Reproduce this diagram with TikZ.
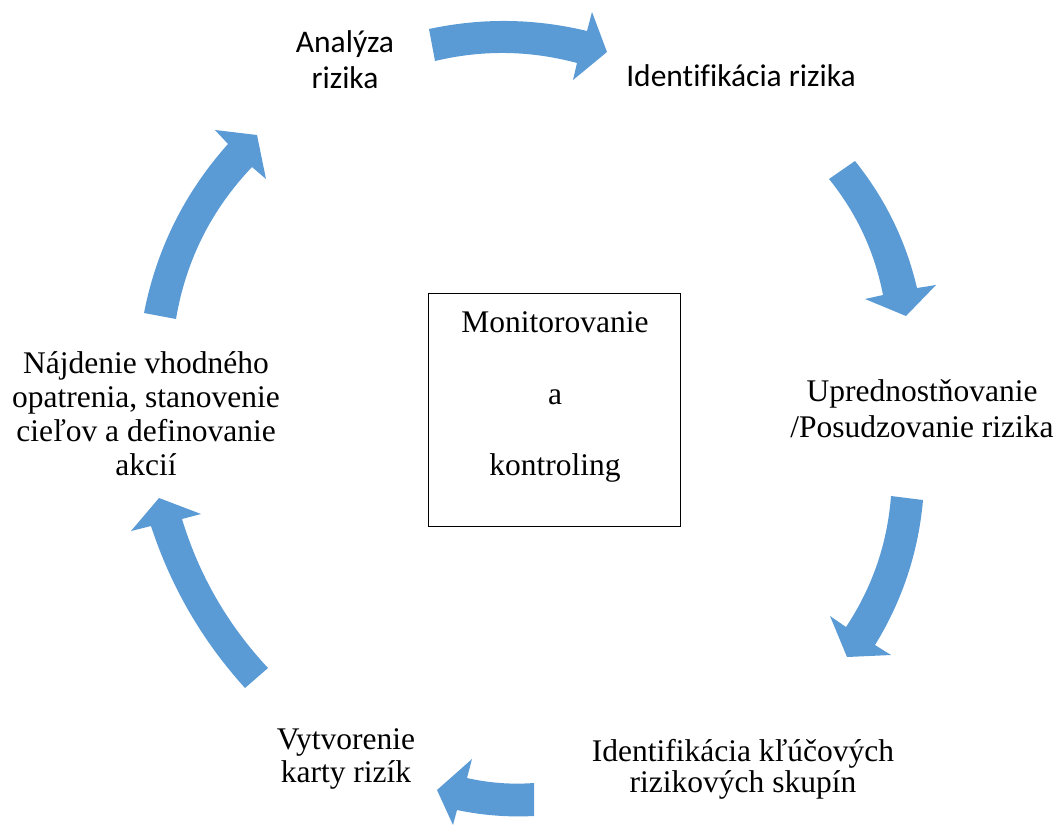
\documentclass[tikz,border=0pt]{standalone}
\usepackage{fontspec}
\usetikzlibrary{calc}
\setmainfont[Ligatures=NoCommon]{Liberation Serif}
\newfontfamily\carl[Ligatures=NoCommon]{Carlito}
\definecolor{arrowblue}{RGB}{91,155,213}
\begin{document}
\begin{tikzpicture}[x=1pt,y=-1pt,
  serif/.style={inner sep=0pt,anchor=base,font=\fontsize{31.5}{35}\selectfont},
  sans/.style={inner sep=0pt,anchor=base,font=\carl\fontsize{31.5}{37}\selectfont},
  blockarrow/.style={fill=arrowblue,draw=none}]
\useasboundingbox (0,0) rectangle (1057,825);

% centre box
\node[draw,line width=1.5pt,minimum width=252pt,minimum height=233pt,inner sep=0pt] (box) at (554.5,410) {};
\node[serif] (m1) at (555,332) {Monitorovanie};
\node[serif] (m2) at (555,404) {a};
\node[serif] (m3) at (555,475) {kontroling};

% labels
\node[sans] (a1) at (345,52) {Analýza};
\node[sans] (a2) at (345,88) {rizika};
\node[sans] (b1) at (741,86) {Identifikácia rizika};
\node[serif] (c1) at (922,401) {Uprednostňovanie};
\node[serif] (c2) at (922,437) {/Posudzovanie rizika};
\node[serif] (d1) at (743,761) {Identifikácia kľúčových};
\node[serif] (d2) at (743,792) {rizikových skupín};
\node[serif] (e1) at (346,749) {Vytvorenie};
\node[serif] (e2) at (346,782) {karty rizík};
\node[serif] (f1) at (146,373) {Nájdenie vhodného};
\node[serif] (f2) at (146,407) {opatrenia, stanovenie};
\node[serif] (f3) at (146,441) {cieľov a definovanie};
\node[serif] (f4) at (146,475) {akcií};

% curved block arrows (quadratic edges: start, control Q, end)
% arrow 1: top
\fill[blockarrow] (429,29) .. controls ($(429,29)!0.6667!(508.2,12)$) and ($(587,31)!0.6667!(508.2,12)$) .. (587,31)
  -- (592,12) -- (607,52) -- (573,80) -- (577,63)
  .. controls ($(577,63)!0.6667!(506.3,44)$) and ($(435,61)!0.6667!(506.3,44)$) .. (435,61) -- cycle;
% arrow 2: upper right
\fill[blockarrow] (855,161) .. controls ($(855,161)!0.6667!(900.4,217.5)$) and ($(917,288)!0.6667!(900.4,217.5)$) .. (917,288)
  -- (936,285) -- (906,316) -- (865,299) -- (883,295)
  .. controls ($(883,295)!0.6667!(870.5,230.3)$) and ($(829,179)!0.6667!(870.5,230.3)$) .. (829,179) -- cycle;
% arrow 3: lower right
\fill[blockarrow] (923,500) .. controls ($(923,500)!0.6667!(916.1,578.2)$) and ($(875,645)!0.6667!(916.1,578.2)$) .. (875,645)
  -- (891,655) -- (847,657) -- (830,616) -- (846,627)
  .. controls ($(846,627)!0.6667!(885.5,567.4)$) and ($(891,496)!0.6667!(885.5,567.4)$) .. (891,496) -- cycle;
% arrow 4: bottom
\fill[blockarrow] (534,816) .. controls ($(534,816)!0.6667!(495,818)$) and ($(457,810)!0.6667!(495,818)$) .. (457,810)
  -- (453,825) -- (437,790) -- (472,759) -- (467,778)
  .. controls ($(467,778)!0.6667!(500,785.5)$) and ($(534,783)!0.6667!(500,785.5)$) .. (534,783) -- cycle;
% arrow 5: lower left
\fill[blockarrow] (245,688) .. controls ($(245,688)!0.6667!(180.7,617)$) and ($(151,526)!0.6667!(180.7,617)$) .. (151,526)
  -- (131,531) -- (159,498) -- (201,514) -- (182,519)
  .. controls ($(182,519)!0.6667!(207.7,603.5)$) and ($(268,668)!0.6667!(207.7,603.5)$) .. (268,668) -- cycle;
% arrow 6: upper left
\fill[blockarrow] (144,313) .. controls ($(144,313)!0.6667!(162.8,217)$) and ($(228,144)!0.6667!(162.8,217)$) .. (228,144)
  -- (215,130) -- (257,135) -- (266,179) -- (252,167)
  .. controls ($(252,167)!0.6667!(190.8,231.4)$) and ($(176,319)!0.6667!(190.8,231.4)$) .. (176,319) -- cycle;
\end{tikzpicture}
\end{document}
